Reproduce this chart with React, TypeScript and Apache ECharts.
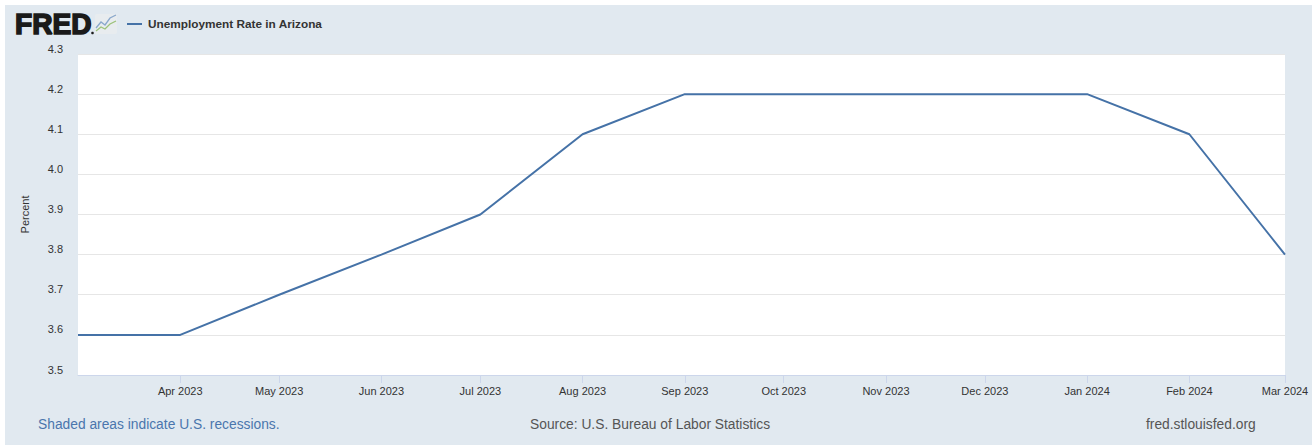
import React, { useEffect, useRef } from "react";
import * as echarts from "echarts";

const dates = [
  "2023-03-01", "2023-04-01", "2023-05-01", "2023-06-01", "2023-07-01", "2023-08-01",
  "2023-09-01", "2023-10-01", "2023-11-01", "2023-12-01", "2024-01-01", "2024-02-01", "2024-03-01",
];
const values = [3.6, 3.6, 3.7, 3.8, 3.9, 4.1, 4.2, 4.2, 4.2, 4.2, 4.2, 4.1, 3.8];
const monthNames = ["Jan", "Feb", "Mar", "Apr", "May", "Jun", "Jul", "Aug", "Sep", "Oct", "Nov", "Dec"];
const yMin = 3.5;
const yMax = 4.3;
const yStep = 0.1;
const seriesName = "Unemployment Rate in Arizona";
const yName = "Percent";
const footLeft = "Shaded areas indicate U.S. recessions.";
const footMid = "Source: U.S. Bureau of Labor Statistics";
const footRight = "fred.stlouisfed.org";

function toTs(s: string): number {
  const [y, m, d] = s.split("-").map(Number);
  return new Date(y, m - 1, d).getTime();
}

const FONT = "Liberation Sans, Arial, Helvetica, sans-serif";

export default function App() {
  const ref = useRef<HTMLDivElement>(null);
  useEffect(() => {
    document.body.style.margin = "0";
    if (!ref.current) return;
    const chart = echarts.init(ref.current, undefined, { renderer: "svg" });
    const ts = dates.map(toTs);
    const tickVals = ts.slice(1);
    chart.setOption({
      animation: false,
      backgroundColor: "#ffffff",
      grid: {
        left: 78,
        right: 27,
        top: 54,
        bottom: 70,
        show: true,
        backgroundColor: "#ffffff",
        borderWidth: 0,
      },
      xAxis: {
        type: "value",
        min: ts[0],
        max: ts[ts.length - 1],
        axisLine: { show: true, lineStyle: { color: "#ccd6eb", width: 1 } },
        axisTick: {
          show: true,
          length: 8,
          lineStyle: { color: "#ccd6eb" },
          customValues: tickVals,
        },
        axisLabel: {
          customValues: tickVals,
          margin: 10,
          color: "#333333",
          fontSize: 11,
          fontFamily: FONT,
          hideOverlap: false,
          formatter: (v: number) => {
            const d = new Date(v);
            return monthNames[d.getMonth()] + " " + d.getFullYear();
          },
        },
        splitLine: { show: false },
      },
      yAxis: {
        type: "value",
        min: yMin,
        max: yMax,
        interval: yStep,
        name: yName,
        nameLocation: "middle",
        nameGap: 48,
        nameRotate: 90,
        nameTextStyle: { color: "#333333", fontSize: 11, fontFamily: FONT },
        axisLine: { show: false },
        axisTick: { show: false },
        axisLabel: {
          margin: 15,
          color: "#333333",
          fontSize: 11,
          fontFamily: FONT,
          verticalAlign: "bottom",
          formatter: (v: number) => v.toFixed(1),
        },
        splitLine: { show: true, lineStyle: { color: "#e6e6e6", width: 1 } },
      },
      series: [
        {
          name: seriesName,
          type: "line",
          data: ts.map((t, i) => [t, values[i]]),
          symbol: "none",
          lineStyle: { color: "#4572a7", width: 2 },
          itemStyle: { color: "#4572a7" },
        },
      ],
      graphic: [
        {
          type: "rect",
          z: -10,
          silent: true,
          shape: { x: 5, y: 5, width: 1307, height: 440 },
          style: { fill: "#e1e9f0" },
        },
        {
          type: "text",
          x: 15,
          y: 24,
          scaleX: 0.97,
          style: {
            text: "FRED",
            fill: "#1a1a1a",
            stroke: "#1a1a1a",
            lineWidth: 1.6,
            fontSize: 29,
            fontWeight: 900,
            fontFamily: "Liberation Sans",
            verticalAlign: "middle",
          },
        },
        {
          type: "circle",
          shape: { cx: 92.5, cy: 33, r: 1.3 },
          style: { fill: "#1a1a1a" },
        },
        {
          type: "rect",
          shape: { x: 95, y: 14, width: 22, height: 20, r: 2 },
          style: { fill: "#e8ecef" },
        },
        {
          type: "polyline",
          shape: { points: [[96, 28], [101, 22], [105, 25], [110, 18], [116, 15]] },
          style: { stroke: "#8aa8cc", lineWidth: 1.3, fill: null },
        },
        {
          type: "polyline",
          shape: { points: [[96, 31], [101, 27], [105, 29], [110, 24], [116, 21]] },
          style: { stroke: "#9cc27a", lineWidth: 1.3, fill: null },
        },
        {
          type: "line",
          shape: { x1: 127, y1: 24, x2: 142, y2: 24 },
          style: { stroke: "#4572a7", lineWidth: 2 },
        },
        {
          type: "text",
          x: 148,
          y: 24,
          style: {
            text: seriesName,
            fill: "#333333",
            fontSize: 11.8,
            fontWeight: "bold",
            fontFamily: FONT,
            verticalAlign: "middle",
          },
        },
        {
          type: "text",
          x: 38,
          y: 424,
          style: {
            text: footLeft,
            fill: "#4a76ad",
            fontSize: 13.8,
            fontFamily: FONT,
            verticalAlign: "middle",
          },
        },
        {
          type: "text",
          x: 530,
          y: 424,
          style: {
            text: footMid,
            fill: "#555555",
            fontSize: 13.8,
            fontFamily: FONT,
            verticalAlign: "middle",
          },
        },
        {
          type: "text",
          x: 1146,
          y: 424,
          style: {
            text: footRight,
            fill: "#555555",
            fontSize: 13.8,
            fontFamily: FONT,
            verticalAlign: "middle",
          },
        },
      ],
    });
    return () => chart.dispose();
  }, []);
  return <div ref={ref} style={{ width: 1312, height: 445 }} />;
}
